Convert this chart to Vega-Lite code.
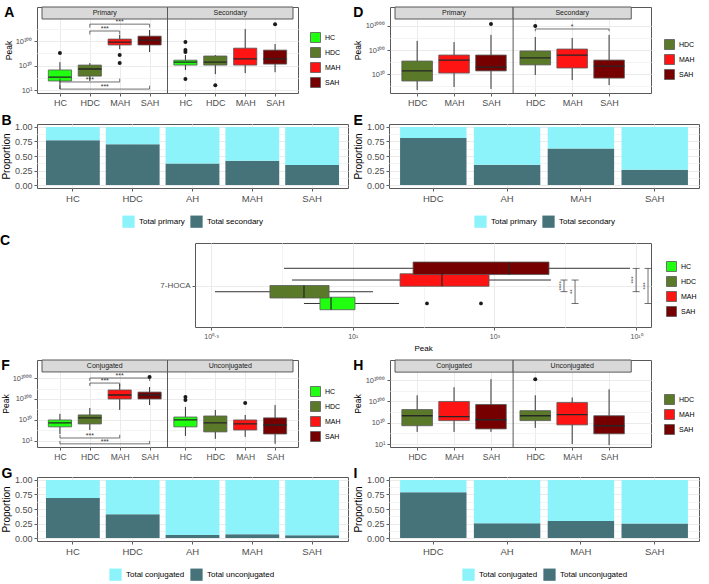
{
"$schema": "https://vega.github.io/schema/vega-lite/v6.json",
"padding": {"left": 0, "top": 5, "right": 0, "bottom": 2},
"background": "white",
"spacing": 5,
"resolve": {"scale": {"color": "independent", "x": "independent", "y": "independent"}},
"vconcat": [
{"hconcat": [
{"title": {"text": "A", "offset": -13},
 "width": 261, "height": 86,
 "data": {"values": [
 {"kind":"strip","panel":"Primary"},{"kind":"strip","panel":"Secondary"},
 {"kind":"box","panel":"Primary","grp":"HC","lo":0.04,"q1":0.37,"med":0.53,"q3":0.82,"hi":1.14},
 {"kind":"box","panel":"Primary","grp":"HDC","lo":0.37,"q1":0.57,"med":0.86,"q3":1.02,"hi":1.1},
 {"kind":"box","panel":"Primary","grp":"MAH","lo":1.67,"q1":1.84,"med":1.96,"q3":2.08,"hi":2.25},
 {"kind":"box","panel":"Primary","grp":"SAH","lo":1.55,"q1":1.84,"med":2.04,"q3":2.2,"hi":2.45},
 {"kind":"box","panel":"Secondary","grp":"HC","lo":0.82,"q1":1.02,"med":1.14,"q3":1.22,"hi":1.43},
 {"kind":"box","panel":"Secondary","grp":"HDC","lo":0.65,"q1":1.02,"med":1.14,"q3":1.39,"hi":1.43},
 {"kind":"box","panel":"Secondary","grp":"MAH","lo":0.69,"q1":1.02,"med":1.27,"q3":1.71,"hi":2.49},
 {"kind":"box","panel":"Secondary","grp":"SAH","lo":0.73,"q1":1.06,"med":1.27,"q3":1.63,"hi":1.88},
 {"kind":"out","panel":"Primary","grp":"HC","v":1.51},
 {"kind":"out","panel":"Primary","grp":"MAH","v":1.43},
 {"kind":"out","panel":"Primary","grp":"MAH","v":1.1},
 {"kind":"out","panel":"Secondary","grp":"HC","v":1.96},
 {"kind":"out","panel":"Secondary","grp":"HC","v":1.63},
 {"kind":"out","panel":"Secondary","grp":"HC","v":1.55},
 {"kind":"out","panel":"Secondary","grp":"HC","v":0.45},
 {"kind":"out","panel":"Secondary","grp":"HDC","v":0.2},
 {"kind":"out","panel":"Secondary","grp":"SAH","v":2.69},
 {"kind":"sig","panel":"Primary","a":"HDC","b":"SAH","yb":2.69,"tip":2.55,"lab":"***"},
 {"kind":"sig","panel":"Primary","a":"HDC","b":"MAH","yb":2.41,"tip":2.27,"lab":"***"},
 {"kind":"sig","panel":"Primary","a":"HC","b":"MAH","yb":0.33,"tip":0.47,"lab":"***"},
 {"kind":"sig","panel":"Primary","a":"HC","b":"SAH","yb":0.04,"tip":0.18,"lab":"***"}
 ]},
 "transform": [
  {"calculate": "datum.panel == 'Secondary' ? 4.2 : 0", "as": "off"},
  {"calculate": "indexof(['HC','HDC','MAH','SAH'], datum.grp) + 1 + datum.off", "as": "gx"},
  {"calculate": "indexof(['HC','HDC','MAH','SAH'], datum.a) + 1 + datum.off", "as": "ga"},
  {"calculate": "indexof(['HC','HDC','MAH','SAH'], datum.b) + 1 + datum.off", "as": "gb"},
  {"calculate": "(datum.ga + datum.gb) / 2", "as": "gm"},
  {"calculate": "0.4 + datum.off", "as": "x0"},
  {"calculate": "4.6 + datum.off", "as": "x1"},
  {"calculate": "2.5 + datum.off", "as": "xm"}
 ],
 "layer": [
  {"transform": [{"filter": "datum.kind == 'box'"}], "mark": {"type": "rule", "color": "#333333", "strokeWidth": 1},
   "encoding": {
    "x": {"field": "gx", "type": "quantitative", "title": null, "scale": {"domain": [0.4, 8.8], "nice": false, "zero": false}, "axis": {"values": [1,2,3,4,5.2,6.2,7.2,8.2], "tickCount": 50, "labelExpr": "['HC','HDC','MAH','SAH'][round(datum.value > 4.6 ? datum.value - 5.2 : datum.value - 1)]", "labelFontSize": 9, "grid": true}},
    "y": {"field": "lo", "type": "quantitative", "title": "Peak", "scale": {"domain": [-0.12, 3.39], "nice": false, "zero": false},
     "axis": {"titleFontSize": 8.5, "titlePadding": 2, "labelFontSize": 7.5, "values": [0,0.5,1,1.5,2,2.5], "tickCount": 50, "labelExpr": "datum.value==0?'10¹':datum.value==1?'10¹⁰':datum.value==2?'10¹⁰⁰':datum.value==3?'10¹⁰⁰⁰':''", "grid": true, "gridColor": {"condition": {"test": "datum.value % 1 != 0", "value": "#F4F4F4"}, "value": "#EBEBEB"}, "tickOpacity": {"condition": {"test": "datum.value % 1 != 0", "value": 0}, "value": 1}}},
    "y2": {"field": "hi"}}},
  {"transform": [{"filter": "datum.kind == 'box'"}], "mark": {"type": "bar", "size": 23.2, "stroke": "#595959", "strokeWidth": 0.8},
   "encoding": {"x": {"field": "gx", "type": "quantitative"}, "y": {"field": "q1", "type": "quantitative"}, "y2": {"field": "q3"},
    "color": {"field": "grp", "type": "nominal", "scale": {"domain": ["HC","HDC","MAH","SAH"], "range": ["#20FF10","#5A7A29","#FF1414","#760000"]},
     "legend": {"title": null, "orient": "none", "legendX": 271, "legendY": 23, "padding": 2, "labelFontSize": 7, "symbolSize": 100, "symbolType": "square", "symbolStrokeColor": "#595959", "symbolStrokeWidth": 0.8, "rowPadding": 0}}}},
  {"transform": [{"filter": "datum.kind == 'box'"}], "mark": {"type": "bar", "size": 23.2, "fillOpacity": 0, "stroke": "#262626", "strokeWidth": 1.3},
   "encoding": {"x": {"field": "gx", "type": "quantitative"}, "y": {"field": "med", "type": "quantitative"}, "y2": {"field": "med"}}},
  {"transform": [{"filter": "datum.kind == 'out'"}], "mark": {"type": "circle", "size": 16, "color": "#1A1A1A", "opacity": 1},
   "encoding": {"x": {"field": "gx", "type": "quantitative"}, "y": {"field": "v", "type": "quantitative"}}},
  {"transform": [{"filter": "datum.kind == 'sig'"}], "mark": {"type": "rule", "color": "#333333", "strokeWidth": 0.7},
   "encoding": {"x": {"field": "ga", "type": "quantitative"}, "x2": {"field": "gb"}, "y": {"field": "yb", "type": "quantitative"}}},
  {"transform": [{"filter": "datum.kind == 'sig'"}], "mark": {"type": "rule", "color": "#333333", "strokeWidth": 0.7},
   "encoding": {"x": {"field": "ga", "type": "quantitative"}, "y": {"field": "yb", "type": "quantitative"}, "y2": {"field": "tip"}}},
  {"transform": [{"filter": "datum.kind == 'sig'"}], "mark": {"type": "rule", "color": "#333333", "strokeWidth": 0.7},
   "encoding": {"x": {"field": "gb", "type": "quantitative"}, "y": {"field": "yb", "type": "quantitative"}, "y2": {"field": "tip"}}},
  {"transform": [{"filter": "datum.kind == 'sig'"}], "mark": {"type": "text", "fontSize": 7, "baseline": "bottom", "dy": 1, "color": "#333333"},
   "encoding": {"x": {"field": "gm", "type": "quantitative"}, "y": {"field": "yb", "type": "quantitative"}, "text": {"field": "lab"}}},
  {"transform": [{"filter": "datum.kind == 'strip' && datum.panel == 'Secondary'"}], "mark": {"type": "rule", "color": "#595959", "strokeWidth": 1},
   "encoding": {"x": {"field": "x0", "type": "quantitative"}, "y": {"datum": -0.12}, "y2": {"datum": 3.39}}},
  {"transform": [{"filter": "datum.kind == 'strip'"}], "mark": {"type": "rect", "fill": "#D9D9D9", "stroke": "#595959", "strokeWidth": 1},
   "encoding": {"x": {"field": "x0", "type": "quantitative"}, "x2": {"field": "x1"}, "y": {"datum": 2.9}, "y2": {"datum": 3.39}}},
  {"transform": [{"filter": "datum.kind == 'strip'"}], "mark": {"type": "text", "fontSize": 7, "color": "#1A1A1A"},
   "encoding": {"x": {"field": "xm", "type": "quantitative"}, "y": {"datum": 3.145}, "text": {"field": "panel"}}}
 ]},
{"title": {"text": "D", "offset": -13},
 "width": 261, "height": 86,
 "data": {"values": [
 {"kind":"strip","panel":"Primary"},{"kind":"strip","panel":"Secondary"},
 {"kind":"box","panel":"Primary","grp":"HDC","lo":0.33,"q1":0.71,"med":1.13,"q3":1.54,"hi":2.38},
 {"kind":"box","panel":"Primary","grp":"MAH","lo":0.46,"q1":1.04,"med":1.58,"q3":1.79,"hi":2.33},
 {"kind":"box","panel":"Primary","grp":"SAH","lo":0.38,"q1":1.13,"med":1.29,"q3":1.79,"hi":2.63},
 {"kind":"box","panel":"Secondary","grp":"HDC","lo":0.96,"q1":1.38,"med":1.67,"q3":1.96,"hi":2.54},
 {"kind":"box","panel":"Secondary","grp":"MAH","lo":0.75,"q1":1.25,"med":1.79,"q3":2.04,"hi":2.5},
 {"kind":"box","panel":"Secondary","grp":"SAH","lo":0.54,"q1":0.83,"med":1.33,"q3":1.58,"hi":2.63},
 {"kind":"out","panel":"Primary","grp":"SAH","v":3.08},
 {"kind":"out","panel":"Secondary","grp":"HDC","v":3.0},
 {"kind":"sig","panel":"Secondary","a":"HDC","b":"SAH","yb":2.875,"tip":2.78,"lab":"*"}
 ]},
 "transform": [
  {"calculate": "datum.panel == 'Secondary' ? 3.2 : 0", "as": "off"},
  {"calculate": "indexof(['HDC','MAH','SAH'], datum.grp) + 1 + datum.off", "as": "gx"},
  {"calculate": "indexof(['HDC','MAH','SAH'], datum.a) + 1 + datum.off", "as": "ga"},
  {"calculate": "indexof(['HDC','MAH','SAH'], datum.b) + 1 + datum.off", "as": "gb"},
  {"calculate": "(datum.ga + datum.gb) / 2", "as": "gm"},
  {"calculate": "0.4 + datum.off", "as": "x0"},
  {"calculate": "3.6 + datum.off", "as": "x1"},
  {"calculate": "2 + datum.off", "as": "xm"}
 ],
 "layer": [
  {"transform": [{"filter": "datum.kind == 'box'"}], "mark": {"type": "rule", "color": "#333333", "strokeWidth": 1},
   "encoding": {
    "x": {"field": "gx", "type": "quantitative", "title": null, "scale": {"domain": [0.4, 7.2], "nice": false, "zero": false}, "axis": {"values": [1,2,3,4.2,5.2,6.2], "tickCount": 50, "labelExpr": "['HDC','MAH','SAH'][round(datum.value > 3.6 ? datum.value - 4.2 : datum.value - 1)]", "labelFontSize": 9, "grid": true}},
    "y": {"field": "lo", "type": "quantitative", "title": "Peak", "scale": {"domain": [0.21, 3.79], "nice": false, "zero": false},
     "axis": {"titleFontSize": 8.5, "titlePadding": 3, "labelFontSize": 7.5, "values": [0.5,1,1.5,2,2.5,3], "tickCount": 50, "labelExpr": "datum.value==0?'10¹':datum.value==1?'10¹⁰':datum.value==2?'10¹⁰⁰':datum.value==3?'10¹⁰⁰⁰':''", "grid": true, "gridColor": {"condition": {"test": "datum.value % 1 != 0", "value": "#F4F4F4"}, "value": "#EBEBEB"}, "tickOpacity": {"condition": {"test": "datum.value % 1 != 0", "value": 0}, "value": 1}}},
    "y2": {"field": "hi"}}},
  {"transform": [{"filter": "datum.kind == 'box'"}], "mark": {"type": "bar", "size": 30.6, "stroke": "#595959", "strokeWidth": 0.8},
   "encoding": {"x": {"field": "gx", "type": "quantitative"}, "y": {"field": "q1", "type": "quantitative"}, "y2": {"field": "q3"},
    "color": {"field": "grp", "type": "nominal", "scale": {"domain": ["HDC","MAH","SAH"], "range": ["#5A7A29","#FF1414","#760000"]},
     "legend": {"title": null, "orient": "none", "legendX": 274, "legendY": 32, "padding": 0, "labelFontSize": 7, "symbolSize": 100, "symbolType": "square", "symbolStrokeColor": "#595959", "symbolStrokeWidth": 0.8, "rowPadding": 0}}}},
  {"transform": [{"filter": "datum.kind == 'box'"}], "mark": {"type": "bar", "size": 30.6, "fillOpacity": 0, "stroke": "#262626", "strokeWidth": 1.3},
   "encoding": {"x": {"field": "gx", "type": "quantitative"}, "y": {"field": "med", "type": "quantitative"}, "y2": {"field": "med"}}},
  {"transform": [{"filter": "datum.kind == 'out'"}], "mark": {"type": "circle", "size": 16, "color": "#1A1A1A", "opacity": 1},
   "encoding": {"x": {"field": "gx", "type": "quantitative"}, "y": {"field": "v", "type": "quantitative"}}},
  {"transform": [{"filter": "datum.kind == 'sig'"}], "mark": {"type": "rule", "color": "#333333", "strokeWidth": 0.7},
   "encoding": {"x": {"field": "ga", "type": "quantitative"}, "x2": {"field": "gb"}, "y": {"field": "yb", "type": "quantitative"}}},
  {"transform": [{"filter": "datum.kind == 'sig'"}], "mark": {"type": "rule", "color": "#333333", "strokeWidth": 0.7},
   "encoding": {"x": {"field": "ga", "type": "quantitative"}, "y": {"field": "yb", "type": "quantitative"}, "y2": {"field": "tip"}}},
  {"transform": [{"filter": "datum.kind == 'sig'"}], "mark": {"type": "rule", "color": "#333333", "strokeWidth": 0.7},
   "encoding": {"x": {"field": "gb", "type": "quantitative"}, "y": {"field": "yb", "type": "quantitative"}, "y2": {"field": "tip"}}},
  {"transform": [{"filter": "datum.kind == 'sig'"}], "mark": {"type": "text", "fontSize": 7, "baseline": "bottom", "dy": 1, "color": "#333333"},
   "encoding": {"x": {"field": "gm", "type": "quantitative"}, "y": {"field": "yb", "type": "quantitative"}, "text": {"field": "lab"}}},
  {"transform": [{"filter": "datum.kind == 'strip' && datum.panel == 'Secondary'"}], "mark": {"type": "rule", "color": "#595959", "strokeWidth": 1},
   "encoding": {"x": {"field": "x0", "type": "quantitative"}, "y": {"datum": 0.21}, "y2": {"datum": 3.79}}},
  {"transform": [{"filter": "datum.kind == 'strip'"}], "mark": {"type": "rect", "fill": "#D9D9D9", "stroke": "#595959", "strokeWidth": 1},
   "encoding": {"x": {"field": "x0", "type": "quantitative"}, "x2": {"field": "x1"}, "y": {"datum": 3.29}, "y2": {"datum": 3.79}}},
  {"transform": [{"filter": "datum.kind == 'strip'"}], "mark": {"type": "text", "fontSize": 7, "color": "#1A1A1A"},
   "encoding": {"x": {"field": "xm", "type": "quantitative"}, "y": {"datum": 3.54}, "text": {"field": "panel"}}}
 ]}
], "spacing": 8, "resolve": {"scale": {"color": "independent", "x": "independent", "y": "independent"}}},

{"hconcat": [
{"title": {"text": "B", "offset": -5},
 "width": 311, "height": 64,
 "data": {"values": [
 {"grp":"HC","type":"Total secondary","prop":0.77},{"grp":"HC","type":"Total primary","prop":0.23},
 {"grp":"HDC","type":"Total secondary","prop":0.70},{"grp":"HDC","type":"Total primary","prop":0.30},
 {"grp":"AH","type":"Total secondary","prop":0.37},{"grp":"AH","type":"Total primary","prop":0.63},
 {"grp":"MAH","type":"Total secondary","prop":0.42},{"grp":"MAH","type":"Total primary","prop":0.58},
 {"grp":"SAH","type":"Total secondary","prop":0.345},{"grp":"SAH","type":"Total primary","prop":0.655}
 ]},
 "mark": {"type": "bar"},
 "encoding": {
  "x": {"field": "grp", "type": "nominal", "title": null, "scale": {"domain": ["HC","HDC","AH","MAH","SAH"], "paddingInner": 0.1, "paddingOuter": 0.15}, "axis": {"labelFontSize": 9.5, "grid": true, "labelAngle": 0}},
  "y": {"field": "prop", "type": "quantitative", "stack": "zero", "title": "Proportion", "scale": {"domain": [-0.05, 1.05], "nice": false, "zero": false},
   "axis": {"titleFontSize": 10, "labelFontSize": 9, "values": [0,0.125,0.25,0.375,0.5,0.625,0.75,0.875,1], "tickCount": 50, "labelExpr": "(datum.value*4)%1==0 ? format(datum.value,'.2f') : ''", "grid": true, "gridColor": {"condition": {"test": "(datum.value*4)%1 != 0", "value": "#F4F4F4"}, "value": "#EBEBEB"}, "tickOpacity": {"condition": {"test": "(datum.value*4)%1 != 0", "value": 0}, "value": 1}}},
  "color": {"field": "type", "type": "nominal", "scale": {"domain": ["Total primary","Total secondary"], "range": ["#8CF3FB","#46727A"]},
   "legend": {"title": null, "orient": "none", "legendX": 85, "legendY": 91, "direction": "horizontal", "labelFontSize": 8, "symbolSize": 150, "symbolType": "square", "symbolStrokeWidth": 0, "columnPadding": 5}},
  "order": {"field": "type", "sort": "descending"}
 }},
{"title": {"text": "E", "offset": -5},
 "width": 310, "height": 64,
 "data": {"values": [
 {"grp":"HDC","type":"Total secondary","prop":0.81},{"grp":"HDC","type":"Total primary","prop":0.19},
 {"grp":"AH","type":"Total secondary","prop":0.35},{"grp":"AH","type":"Total primary","prop":0.65},
 {"grp":"MAH","type":"Total secondary","prop":0.63},{"grp":"MAH","type":"Total primary","prop":0.37},
 {"grp":"SAH","type":"Total secondary","prop":0.265},{"grp":"SAH","type":"Total primary","prop":0.735}
 ]},
 "mark": {"type": "bar"},
 "encoding": {
  "x": {"field": "grp", "type": "nominal", "title": null, "scale": {"domain": ["HDC","AH","MAH","SAH"], "paddingInner": 0.1, "paddingOuter": 0.15}, "axis": {"labelFontSize": 9.5, "grid": true, "labelAngle": 0}},
  "y": {"field": "prop", "type": "quantitative", "stack": "zero", "title": "Proportion", "scale": {"domain": [-0.05, 1.05], "nice": false, "zero": false},
   "axis": {"titleFontSize": 10, "labelFontSize": 9, "values": [0,0.125,0.25,0.375,0.5,0.625,0.75,0.875,1], "tickCount": 50, "labelExpr": "(datum.value*4)%1==0 ? format(datum.value,'.2f') : ''", "grid": true, "gridColor": {"condition": {"test": "(datum.value*4)%1 != 0", "value": "#F4F4F4"}, "value": "#EBEBEB"}, "tickOpacity": {"condition": {"test": "(datum.value*4)%1 != 0", "value": 0}, "value": 1}}},
  "color": {"field": "type", "type": "nominal", "scale": {"domain": ["Total primary","Total secondary"], "range": ["#8CF3FB","#46727A"]},
   "legend": {"title": null, "orient": "none", "legendX": 85, "legendY": 91, "direction": "horizontal", "labelFontSize": 8, "symbolSize": 150, "symbolType": "square", "symbolStrokeWidth": 0, "columnPadding": 5}},
  "order": {"field": "type", "sort": "descending"}
 }}
], "spacing": 3, "resolve": {"scale": {"color": "independent", "x": "independent", "y": "independent"}}},

{"hconcat": [
{"title": {"text": "C", "offset": -5, "dx": -37},
 "width": 122, "height": 84,
 "data": {"values": []},
 "mark": {"type": "point", "opacity": 0},
 "view": {"stroke": null}},
{"width": 456, "height": 84,
 "data": {"values": [
 {"kind":"box","grp":"HC","pos":1,"lo":0.656,"q1":0.769,"med":0.847,"q3":1.016,"hi":1.327},
 {"kind":"box","grp":"HDC","pos":2,"lo":0.028,"q1":0.416,"med":0.656,"q3":0.833,"hi":1.143},
 {"kind":"box","grp":"MAH","pos":3,"lo":0.572,"q1":1.334,"med":1.63,"q3":1.962,"hi":2.399},
 {"kind":"box","grp":"SAH","pos":4,"lo":0.515,"q1":1.426,"med":2.103,"q3":2.385,"hi":2.957},
 {"kind":"out","grp":"HC","pos":1,"v":1.524},
 {"kind":"out","grp":"HC","pos":1,"v":1.905},
 {"kind":"sig","a":3,"b":2,"xb":2.491,"lab":"****"},
 {"kind":"sig","a":3,"b":1,"xb":2.569,"lab":"**"},
 {"kind":"sig","a":4,"b":2,"xb":3.0,"lab":"***"},
 {"kind":"sig","a":4,"b":1,"xb":3.084,"lab":"***"}
 ]},
 "transform": [{"calculate": "(datum.a + datum.b) / 2", "as": "mid"}],
 "layer": [
  {"transform": [{"filter": "datum.kind == 'box'"}], "mark": {"type": "rule", "color": "#333333", "strokeWidth": 1},
   "encoding": {
    "x": {"field": "lo", "type": "quantitative", "title": "Peak", "scale": {"domain": [-0.113, 3.105], "nice": false, "zero": false},
     "axis": {"titleFontSize": 8, "titlePadding": 5, "labelFontSize": 7, "values": [0,0.5,1,1.5,2,2.5,3], "tickCount": 50, "labelExpr": "datum.value==0?'10⁰·³':datum.value==1?'10¹':datum.value==2?'10³':datum.value==3?'10¹⁰':''", "grid": true, "gridColor": {"condition": {"test": "datum.value % 1 != 0", "value": "#F4F4F4"}, "value": "#EBEBEB"}, "tickOpacity": {"condition": {"test": "datum.value % 1 != 0", "value": 0}, "value": 1}}},
    "x2": {"field": "hi"},
    "y": {"field": "pos", "type": "quantitative", "title": null, "scale": {"domain": [-0.58, 5.73], "nice": false, "zero": false}, "axis": {"values": [2.5], "tickCount": 50, "labelExpr": "'7-HOCA'", "labelFontSize": 8, "grid": true}}}},
  {"transform": [{"filter": "datum.kind == 'box'"}], "mark": {"type": "bar", "orient": "horizontal", "size": 12.5, "stroke": "#595959", "strokeWidth": 0.8},
   "encoding": {"x": {"field": "q1", "type": "quantitative"}, "x2": {"field": "q3"}, "y": {"field": "pos", "type": "quantitative"},
    "color": {"field": "grp", "type": "nominal", "scale": {"domain": ["HC","HDC","MAH","SAH"], "range": ["#20FF10","#5A7A29","#FF1414","#760000"]},
     "legend": {"title": null, "orient": "none", "legendX": 471, "legendY": 18, "padding": 0, "labelFontSize": 7, "symbolSize": 100, "symbolType": "square", "symbolStrokeColor": "#595959", "symbolStrokeWidth": 0.8, "rowPadding": 0}}}},
  {"transform": [{"filter": "datum.kind == 'box'"}], "mark": {"type": "bar", "orient": "horizontal", "size": 12.5, "fillOpacity": 0, "stroke": "#262626", "strokeWidth": 1.2},
   "encoding": {"x": {"field": "med", "type": "quantitative"}, "x2": {"field": "med"}, "y": {"field": "pos", "type": "quantitative"}}},
  {"transform": [{"filter": "datum.kind == 'out'"}], "mark": {"type": "circle", "size": 14, "color": "#1A1A1A", "opacity": 1},
   "encoding": {"x": {"field": "v", "type": "quantitative"}, "y": {"field": "pos", "type": "quantitative"}}},
  {"transform": [{"filter": "datum.kind == 'sig'"}], "mark": {"type": "rule", "color": "#333333", "strokeWidth": 0.7},
   "encoding": {"x": {"field": "xb", "type": "quantitative"}, "y": {"field": "a", "type": "quantitative"}, "y2": {"field": "b"}}},
  {"transform": [{"filter": "datum.kind == 'sig'"}], "mark": {"type": "tick", "orient": "horizontal", "size": 7, "thickness": 0.7, "color": "#333333", "opacity": 1},
   "encoding": {"x": {"field": "xb", "type": "quantitative"}, "y": {"field": "a", "type": "quantitative"}}},
  {"transform": [{"filter": "datum.kind == 'sig'"}], "mark": {"type": "tick", "orient": "horizontal", "size": 7, "thickness": 0.7, "color": "#333333", "opacity": 1},
   "encoding": {"x": {"field": "xb", "type": "quantitative"}, "y": {"field": "b", "type": "quantitative"}}},
  {"transform": [{"filter": "datum.kind == 'sig'"}], "mark": {"type": "text", "fontSize": 6, "angle": 270, "baseline": "bottom", "color": "#333333"},
   "encoding": {"x": {"field": "xb", "type": "quantitative"}, "y": {"field": "mid", "type": "quantitative"}, "text": {"field": "lab"}}}
 ]}
], "spacing": 0, "resolve": {"scale": {"color": "independent", "x": "independent", "y": "independent"}}},

{"hconcat": [
{"title": {"text": "F", "offset": -13},
 "width": 261, "height": 87,
 "data": {"values": [
 {"kind":"strip","panel":"Conjugated"},{"kind":"strip","panel":"Unconjugated"},
 {"kind":"box","panel":"Conjugated","grp":"HC","lo":0.33,"q1":0.67,"med":0.86,"q3":1.0,"hi":1.29},
 {"kind":"box","panel":"Conjugated","grp":"HDC","lo":0.52,"q1":0.81,"med":1.1,"q3":1.24,"hi":1.57},
 {"kind":"box","panel":"Conjugated","grp":"MAH","lo":1.48,"q1":2.0,"med":2.19,"q3":2.43,"hi":2.71},
 {"kind":"box","panel":"Conjugated","grp":"SAH","lo":1.71,"q1":2.0,"med":2.19,"q3":2.33,"hi":2.57},
 {"kind":"box","panel":"Unconjugated","grp":"HC","lo":0.24,"q1":0.67,"med":1.0,"q3":1.14,"hi":1.62},
 {"kind":"box","panel":"Unconjugated","grp":"HDC","lo":0.1,"q1":0.43,"med":0.86,"q3":1.19,"hi":1.48},
 {"kind":"box","panel":"Unconjugated","grp":"MAH","lo":0.19,"q1":0.52,"med":0.81,"q3":1.0,"hi":1.24},
 {"kind":"box","panel":"Unconjugated","grp":"SAH","lo":-0.14,"q1":0.33,"med":0.76,"q3":1.1,"hi":1.71},
 {"kind":"out","panel":"Conjugated","grp":"SAH","v":3.05},
 {"kind":"out","panel":"Unconjugated","grp":"HC","v":2.1},
 {"kind":"out","panel":"Unconjugated","grp":"HC","v":1.95},
 {"kind":"out","panel":"Unconjugated","grp":"MAH","v":1.81},
 {"kind":"sig","panel":"Conjugated","a":"HDC","b":"SAH","yb":3.0,"tip":2.86,"lab":"***"},
 {"kind":"sig","panel":"Conjugated","a":"HDC","b":"MAH","yb":2.76,"tip":2.62,"lab":"***"},
 {"kind":"sig","panel":"Conjugated","a":"HC","b":"MAH","yb":0.14,"tip":0.29,"lab":"***"},
 {"kind":"sig","panel":"Conjugated","a":"HC","b":"SAH","yb":-0.14,"tip":0.0,"lab":"***"}
 ]},
 "transform": [
  {"calculate": "datum.panel == 'Unconjugated' ? 4.2 : 0", "as": "off"},
  {"calculate": "indexof(['HC','HDC','MAH','SAH'], datum.grp) + 1 + datum.off", "as": "gx"},
  {"calculate": "indexof(['HC','HDC','MAH','SAH'], datum.a) + 1 + datum.off", "as": "ga"},
  {"calculate": "indexof(['HC','HDC','MAH','SAH'], datum.b) + 1 + datum.off", "as": "gb"},
  {"calculate": "(datum.ga + datum.gb) / 2", "as": "gm"},
  {"calculate": "0.4 + datum.off", "as": "x0"},
  {"calculate": "4.6 + datum.off", "as": "x1"},
  {"calculate": "2.5 + datum.off", "as": "xm"}
 ],
 "layer": [
  {"transform": [{"filter": "datum.kind == 'box'"}], "mark": {"type": "rule", "color": "#333333", "strokeWidth": 1},
   "encoding": {
    "x": {"field": "gx", "type": "quantitative", "title": null, "scale": {"domain": [0.4, 8.8], "nice": false, "zero": false}, "axis": {"values": [1,2,3,4,5.2,6.2,7.2,8.2], "tickCount": 50, "labelExpr": "['HC','HDC','MAH','SAH'][round(datum.value > 4.6 ? datum.value - 5.2 : datum.value - 1)]", "labelFontSize": 8.5, "grid": true}},
    "y": {"field": "lo", "type": "quantitative", "title": "Peak", "scale": {"domain": [-0.29, 3.86], "nice": false, "zero": false},
     "axis": {"titleFontSize": 8.5, "titlePadding": 2, "labelFontSize": 7.5, "values": [0,0.5,1,1.5,2,2.5,3], "tickCount": 50, "labelExpr": "datum.value==0?'10¹':datum.value==1?'10¹⁰':datum.value==2?'10¹⁰⁰':datum.value==3?'10¹⁰⁰⁰':''", "grid": true, "gridColor": {"condition": {"test": "datum.value % 1 != 0", "value": "#F4F4F4"}, "value": "#EBEBEB"}, "tickOpacity": {"condition": {"test": "datum.value % 1 != 0", "value": 0}, "value": 1}}},
    "y2": {"field": "hi"}}},
  {"transform": [{"filter": "datum.kind == 'box'"}], "mark": {"type": "bar", "size": 23.2, "stroke": "#595959", "strokeWidth": 0.8},
   "encoding": {"x": {"field": "gx", "type": "quantitative"}, "y": {"field": "q1", "type": "quantitative"}, "y2": {"field": "q3"},
    "color": {"field": "grp", "type": "nominal", "scale": {"domain": ["HC","HDC","MAH","SAH"], "range": ["#20FF10","#5A7A29","#FF1414","#760000"]},
     "legend": {"title": null, "orient": "none", "legendX": 271, "legendY": 24, "padding": 2, "labelFontSize": 7, "symbolSize": 100, "symbolType": "square", "symbolStrokeColor": "#595959", "symbolStrokeWidth": 0.8, "rowPadding": 0}}}},
  {"transform": [{"filter": "datum.kind == 'box'"}], "mark": {"type": "bar", "size": 23.2, "fillOpacity": 0, "stroke": "#262626", "strokeWidth": 1.3},
   "encoding": {"x": {"field": "gx", "type": "quantitative"}, "y": {"field": "med", "type": "quantitative"}, "y2": {"field": "med"}}},
  {"transform": [{"filter": "datum.kind == 'out'"}], "mark": {"type": "circle", "size": 16, "color": "#1A1A1A", "opacity": 1},
   "encoding": {"x": {"field": "gx", "type": "quantitative"}, "y": {"field": "v", "type": "quantitative"}}},
  {"transform": [{"filter": "datum.kind == 'sig'"}], "mark": {"type": "rule", "color": "#333333", "strokeWidth": 0.7},
   "encoding": {"x": {"field": "ga", "type": "quantitative"}, "x2": {"field": "gb"}, "y": {"field": "yb", "type": "quantitative"}}},
  {"transform": [{"filter": "datum.kind == 'sig'"}], "mark": {"type": "rule", "color": "#333333", "strokeWidth": 0.7},
   "encoding": {"x": {"field": "ga", "type": "quantitative"}, "y": {"field": "yb", "type": "quantitative"}, "y2": {"field": "tip"}}},
  {"transform": [{"filter": "datum.kind == 'sig'"}], "mark": {"type": "rule", "color": "#333333", "strokeWidth": 0.7},
   "encoding": {"x": {"field": "gb", "type": "quantitative"}, "y": {"field": "yb", "type": "quantitative"}, "y2": {"field": "tip"}}},
  {"transform": [{"filter": "datum.kind == 'sig'"}], "mark": {"type": "text", "fontSize": 7, "baseline": "bottom", "dy": 1, "color": "#333333"},
   "encoding": {"x": {"field": "gm", "type": "quantitative"}, "y": {"field": "yb", "type": "quantitative"}, "text": {"field": "lab"}}},
  {"transform": [{"filter": "datum.kind == 'strip' && datum.panel == 'Unconjugated'"}], "mark": {"type": "rule", "color": "#595959", "strokeWidth": 1},
   "encoding": {"x": {"field": "x0", "type": "quantitative"}, "y": {"datum": -0.29}, "y2": {"datum": 3.86}}},
  {"transform": [{"filter": "datum.kind == 'strip'"}], "mark": {"type": "rect", "fill": "#D9D9D9", "stroke": "#595959", "strokeWidth": 1},
   "encoding": {"x": {"field": "x0", "type": "quantitative"}, "x2": {"field": "x1"}, "y": {"datum": 3.29}, "y2": {"datum": 3.86}}},
  {"transform": [{"filter": "datum.kind == 'strip'"}], "mark": {"type": "text", "fontSize": 7, "color": "#1A1A1A"},
   "encoding": {"x": {"field": "xm", "type": "quantitative"}, "y": {"datum": 3.575}, "text": {"field": "panel"}}}
 ]},
{"title": {"text": "H", "offset": -13},
 "width": 261, "height": 87,
 "data": {"values": [
 {"kind":"strip","panel":"Conjugated"},{"kind":"strip","panel":"Unconjugated"},
 {"kind":"box","panel":"Conjugated","grp":"HDC","lo":0.57,"q1":0.86,"med":1.33,"q3":1.62,"hi":2.29},
 {"kind":"box","panel":"Conjugated","grp":"MAH","lo":0.57,"q1":1.1,"med":1.29,"q3":2.0,"hi":2.67},
 {"kind":"box","panel":"Conjugated","grp":"SAH","lo":0.57,"q1":0.71,"med":1.14,"q3":1.86,"hi":3.05},
 {"kind":"box","panel":"Unconjugated","grp":"HDC","lo":0.76,"q1":1.1,"med":1.33,"q3":1.57,"hi":2.29},
 {"kind":"box","panel":"Unconjugated","grp":"MAH","lo":0.0,"q1":0.9,"med":1.38,"q3":1.95,"hi":2.19},
 {"kind":"box","panel":"Unconjugated","grp":"SAH","lo":-0.05,"q1":0.48,"med":0.86,"q3":1.33,"hi":2.57},
 {"kind":"out","panel":"Unconjugated","grp":"HDC","v":3.05}
 ]},
 "transform": [
  {"calculate": "datum.panel == 'Unconjugated' ? 3.2 : 0", "as": "off"},
  {"calculate": "indexof(['HDC','MAH','SAH'], datum.grp) + 1 + datum.off", "as": "gx"},
  {"calculate": "0.4 + datum.off", "as": "x0"},
  {"calculate": "3.6 + datum.off", "as": "x1"},
  {"calculate": "2 + datum.off", "as": "xm"}
 ],
 "layer": [
  {"transform": [{"filter": "datum.kind == 'box'"}], "mark": {"type": "rule", "color": "#333333", "strokeWidth": 1},
   "encoding": {
    "x": {"field": "gx", "type": "quantitative", "title": null, "scale": {"domain": [0.4, 7.2], "nice": false, "zero": false}, "axis": {"values": [1,2,3,4.2,5.2,6.2], "tickCount": 50, "labelExpr": "['HDC','MAH','SAH'][round(datum.value > 3.6 ? datum.value - 4.2 : datum.value - 1)]", "labelFontSize": 8.5, "grid": true}},
    "y": {"field": "lo", "type": "quantitative", "title": "Peak", "scale": {"domain": [-0.14, 3.95], "nice": false, "zero": false},
     "axis": {"titleFontSize": 8.5, "titlePadding": 3, "labelFontSize": 7.5, "values": [0,0.5,1,1.5,2,2.5,3], "tickCount": 50, "labelExpr": "datum.value==0?'10¹':datum.value==1?'10¹⁰':datum.value==2?'10¹⁰⁰':datum.value==3?'10¹⁰⁰⁰':''", "grid": true, "gridColor": {"condition": {"test": "datum.value % 1 != 0", "value": "#F4F4F4"}, "value": "#EBEBEB"}, "tickOpacity": {"condition": {"test": "datum.value % 1 != 0", "value": 0}, "value": 1}}},
    "y2": {"field": "hi"}}},
  {"transform": [{"filter": "datum.kind == 'box'"}], "mark": {"type": "bar", "size": 30.6, "stroke": "#595959", "strokeWidth": 0.8},
   "encoding": {"x": {"field": "gx", "type": "quantitative"}, "y": {"field": "q1", "type": "quantitative"}, "y2": {"field": "q3"},
    "color": {"field": "grp", "type": "nominal", "scale": {"domain": ["HDC","MAH","SAH"], "range": ["#5A7A29","#FF1414","#760000"]},
     "legend": {"title": null, "orient": "none", "legendX": 274, "legendY": 34, "padding": 0, "labelFontSize": 7, "symbolSize": 100, "symbolType": "square", "symbolStrokeColor": "#595959", "symbolStrokeWidth": 0.8, "rowPadding": 0}}}},
  {"transform": [{"filter": "datum.kind == 'box'"}], "mark": {"type": "bar", "size": 30.6, "fillOpacity": 0, "stroke": "#262626", "strokeWidth": 1.3},
   "encoding": {"x": {"field": "gx", "type": "quantitative"}, "y": {"field": "med", "type": "quantitative"}, "y2": {"field": "med"}}},
  {"transform": [{"filter": "datum.kind == 'out'"}], "mark": {"type": "circle", "size": 16, "color": "#1A1A1A", "opacity": 1},
   "encoding": {"x": {"field": "gx", "type": "quantitative"}, "y": {"field": "v", "type": "quantitative"}}},
  {"transform": [{"filter": "datum.kind == 'strip' && datum.panel == 'Unconjugated'"}], "mark": {"type": "rule", "color": "#595959", "strokeWidth": 1},
   "encoding": {"x": {"field": "x0", "type": "quantitative"}, "y": {"datum": -0.14}, "y2": {"datum": 3.95}}},
  {"transform": [{"filter": "datum.kind == 'strip'"}], "mark": {"type": "rect", "fill": "#D9D9D9", "stroke": "#595959", "strokeWidth": 1},
   "encoding": {"x": {"field": "x0", "type": "quantitative"}, "x2": {"field": "x1"}, "y": {"datum": 3.38}, "y2": {"datum": 3.95}}},
  {"transform": [{"filter": "datum.kind == 'strip'"}], "mark": {"type": "text", "fontSize": 7, "color": "#1A1A1A"},
   "encoding": {"x": {"field": "xm", "type": "quantitative"}, "y": {"datum": 3.665}, "text": {"field": "panel"}}}
 ]}
], "spacing": 8, "resolve": {"scale": {"color": "independent", "x": "independent", "y": "independent"}}},

{"hconcat": [
{"title": {"text": "G", "offset": -5},
 "width": 311, "height": 64,
 "data": {"values": [
 {"grp":"HC","type":"Total unconjugated","prop":0.69},{"grp":"HC","type":"Total conjugated","prop":0.31},
 {"grp":"HDC","type":"Total unconjugated","prop":0.41},{"grp":"HDC","type":"Total conjugated","prop":0.59},
 {"grp":"AH","type":"Total unconjugated","prop":0.055},{"grp":"AH","type":"Total conjugated","prop":0.945},
 {"grp":"MAH","type":"Total unconjugated","prop":0.065},{"grp":"MAH","type":"Total conjugated","prop":0.935},
 {"grp":"SAH","type":"Total unconjugated","prop":0.05},{"grp":"SAH","type":"Total conjugated","prop":0.95}
 ]},
 "mark": {"type": "bar"},
 "encoding": {
  "x": {"field": "grp", "type": "nominal", "title": null, "scale": {"domain": ["HC","HDC","AH","MAH","SAH"], "paddingInner": 0.1, "paddingOuter": 0.15}, "axis": {"labelFontSize": 9.5, "grid": true, "labelAngle": 0}},
  "y": {"field": "prop", "type": "quantitative", "stack": "zero", "title": "Proportion", "scale": {"domain": [-0.05, 1.05], "nice": false, "zero": false},
   "axis": {"titleFontSize": 10, "labelFontSize": 9, "values": [0,0.125,0.25,0.375,0.5,0.625,0.75,0.875,1], "tickCount": 50, "labelExpr": "(datum.value*4)%1==0 ? format(datum.value,'.2f') : ''", "grid": true, "gridColor": {"condition": {"test": "(datum.value*4)%1 != 0", "value": "#F4F4F4"}, "value": "#EBEBEB"}, "tickOpacity": {"condition": {"test": "(datum.value*4)%1 != 0", "value": 0}, "value": 1}}},
  "color": {"field": "type", "type": "nominal", "scale": {"domain": ["Total conjugated","Total unconjugated"], "range": ["#8CF3FB","#46727A"]},
   "legend": {"title": null, "orient": "none", "legendX": 72, "legendY": 91, "direction": "horizontal", "labelFontSize": 8, "symbolSize": 150, "symbolType": "square", "symbolStrokeWidth": 0, "columnPadding": 5}},
  "order": {"field": "type", "sort": "descending"}
 }},
{"title": {"text": "I", "offset": -5},
 "width": 310, "height": 64,
 "data": {"values": [
 {"grp":"HDC","type":"Total unconjugated","prop":0.79},{"grp":"HDC","type":"Total conjugated","prop":0.21},
 {"grp":"AH","type":"Total unconjugated","prop":0.255},{"grp":"AH","type":"Total conjugated","prop":0.745},
 {"grp":"MAH","type":"Total unconjugated","prop":0.295},{"grp":"MAH","type":"Total conjugated","prop":0.705},
 {"grp":"SAH","type":"Total unconjugated","prop":0.25},{"grp":"SAH","type":"Total conjugated","prop":0.75}
 ]},
 "mark": {"type": "bar"},
 "encoding": {
  "x": {"field": "grp", "type": "nominal", "title": null, "scale": {"domain": ["HDC","AH","MAH","SAH"], "paddingInner": 0.1, "paddingOuter": 0.15}, "axis": {"labelFontSize": 9.5, "grid": true, "labelAngle": 0}},
  "y": {"field": "prop", "type": "quantitative", "stack": "zero", "title": "Proportion", "scale": {"domain": [-0.05, 1.05], "nice": false, "zero": false},
   "axis": {"titleFontSize": 10, "labelFontSize": 9, "values": [0,0.125,0.25,0.375,0.5,0.625,0.75,0.875,1], "tickCount": 50, "labelExpr": "(datum.value*4)%1==0 ? format(datum.value,'.2f') : ''", "grid": true, "gridColor": {"condition": {"test": "(datum.value*4)%1 != 0", "value": "#F4F4F4"}, "value": "#EBEBEB"}, "tickOpacity": {"condition": {"test": "(datum.value*4)%1 != 0", "value": 0}, "value": 1}}},
  "color": {"field": "type", "type": "nominal", "scale": {"domain": ["Total conjugated","Total unconjugated"], "range": ["#8CF3FB","#46727A"]},
   "legend": {"title": null, "orient": "none", "legendX": 73, "legendY": 91, "direction": "horizontal", "labelFontSize": 8, "symbolSize": 150, "symbolType": "square", "symbolStrokeWidth": 0, "columnPadding": 5}},
  "order": {"field": "type", "sort": "descending"}
 }}
], "spacing": 3, "resolve": {"scale": {"color": "independent", "x": "independent", "y": "independent"}}}
],
"config": {
 "font": "Liberation Sans",
 "view": {"stroke": "#595959", "strokeWidth": 1},
 "axis": {"domain": false, "gridColor": "#EBEBEB", "gridWidth": 1, "tickColor": "#333333", "tickSize": 3, "tickWidth": 0.8, "labelColor": "#4D4D4D", "titleColor": "#000000", "titleFontWeight": "normal", "labelPadding": 2, "titlePadding": 3, "labelFlush": false, "labelOverlap": false},
 "legend": {"labelColor": "#000000"},
 "title": {"fontSize": 14, "fontWeight": "bold", "anchor": "start", "frame": "bounds", "color": "#000000"}
}
}
